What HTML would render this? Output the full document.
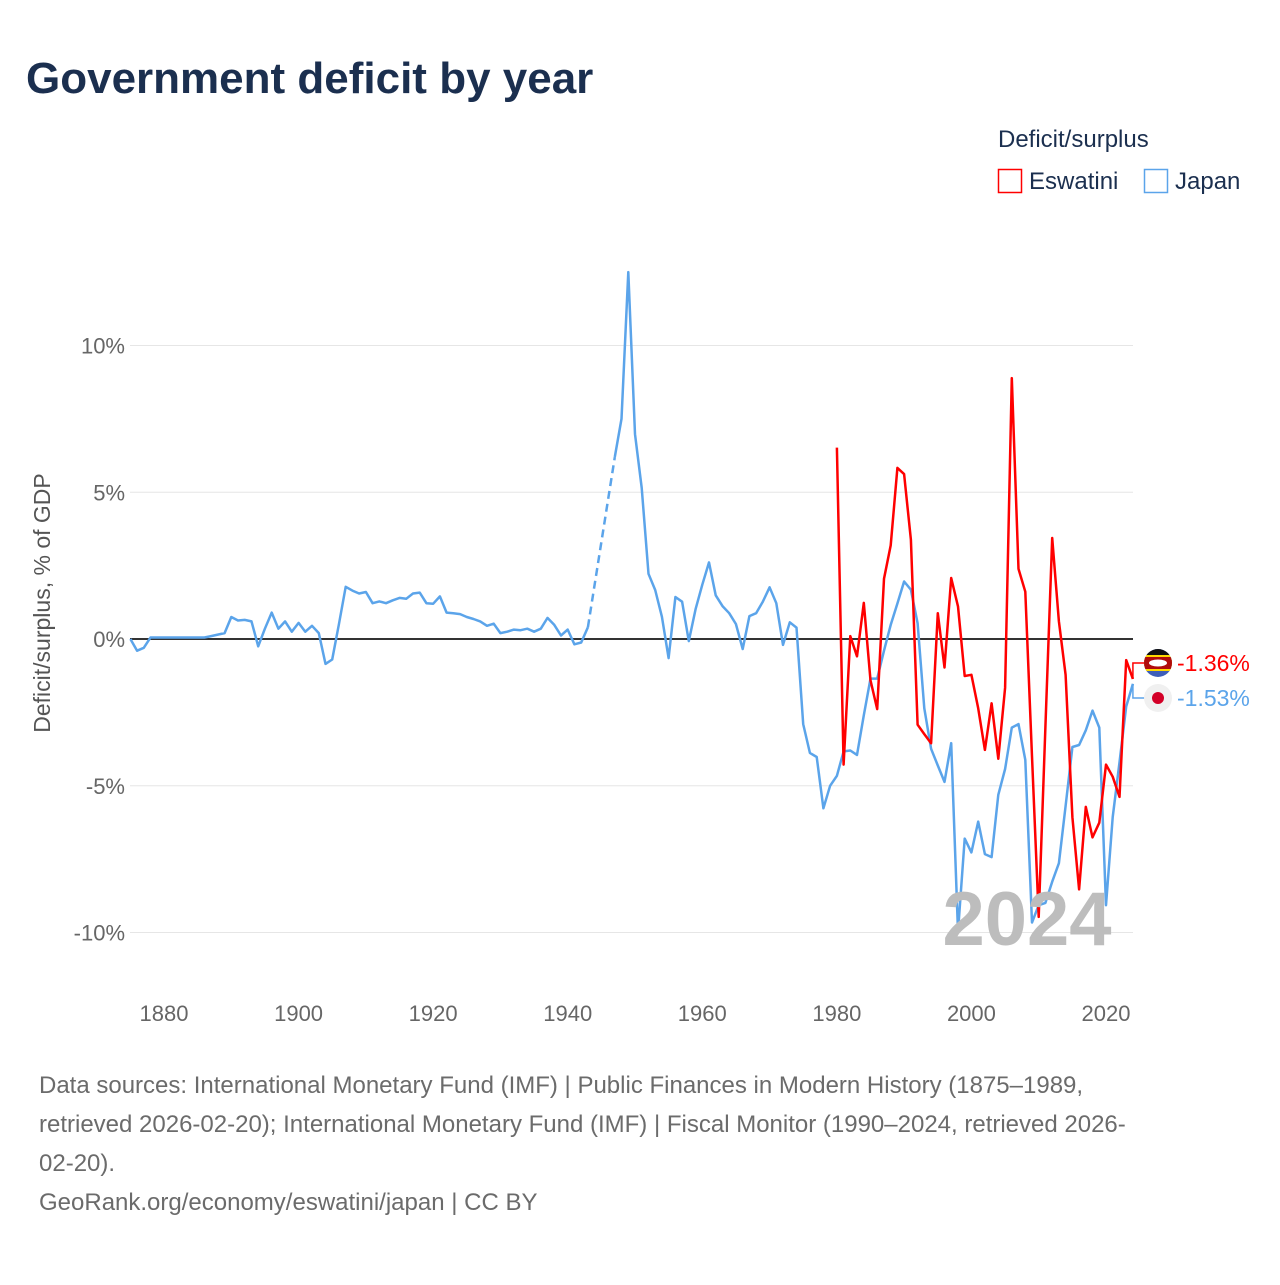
<!DOCTYPE html>
<html><head><meta charset="utf-8"><style>
body{margin:0;background:#fff;font-family:"Liberation Sans",sans-serif}
svg text{font-family:"Liberation Sans",sans-serif}
</style></head><body>
<svg id="chart" width="1280" height="1280" viewBox="0 0 1280 1280">
<text x="26" y="93" font-size="44" font-weight="bold" fill="#1b2f4f">Government deficit by year</text>
<g>
<text x="998" y="147" font-size="24" fill="#1b2f4f">Deficit/surplus</text>
<rect x="998.5" y="169.5" width="23" height="23" fill="none" stroke="#ff0000" stroke-width="1.5"/>
<text x="1029" y="189" font-size="24" fill="#1b2f4f">Eswatini</text>
<rect x="1144.5" y="169.5" width="23" height="23" fill="none" stroke="#5ba4ea" stroke-width="1.5"/>
<text x="1175" y="189" font-size="24" fill="#1b2f4f">Japan</text>
</g>
<text transform="translate(50,603) rotate(-90)" text-anchor="middle" font-size="23" fill="#555">Deficit/surplus, % of GDP</text>
<g id="grid"></g><g id="xt"></g><g id="series"></g>
<text x="1027" y="945" text-anchor="middle" font-size="76" font-weight="bold" fill="#bdbdbd">2024</text>
<g id="ends"></g>
<g font-size="24" fill="#6b6b6b">
<text x="39" y="1093">Data sources: International Monetary Fund (IMF) | Public Finances in Modern History (1875–1989,</text>
<text x="39" y="1132">retrieved 2026-02-20); International Monetary Fund (IMF) | Fiscal Monitor (1990–2024, retrieved 2026-</text>
<text x="39" y="1171">02-20).</text>
<text x="39" y="1210">GeoRank.org/economy/eswatini/japan | CC BY</text>
</g>
</svg>
<script>
const yTicks=[10,5,0,-5,-10];
const xTicks=[1880,1900,1920,1940,1960,1980,2000,2020];
const japanStart=1875;
const japanVals=[0,-0.4,-0.3,0.05,0.05,0.05,0.05,0.05,0.05,0.05,0.05,0.05,0.1,0.15,0.2,0.75,0.63,0.65,0.6,-0.25,0.35,0.9,0.35,0.6,0.25,0.55,0.25,0.45,0.2,-0.85,-0.7,0.5,1.78,1.65,1.55,1.6,1.22,1.28,1.22,1.32,1.4,1.37,1.55,1.58,1.22,1.2,1.45,0.9,0.88,0.85,0.75,0.68,0.6,0.45,0.52,0.2,0.25,0.32,0.3,0.35,0.25,0.35,0.72,0.48,0.12,0.32,-0.18,-0.12,0.4,null,null,null,6.2,7.5,12.5,6.98,5.15,2.22,1.67,0.76,-0.65,1.43,1.27,-0.07,1.02,1.85,2.61,1.49,1.12,0.88,0.51,-0.34,0.78,0.88,1.27,1.76,1.22,-0.2,0.57,0.39,-2.9,-3.88,-4.02,-5.77,-5.0,-4.66,-3.83,-3.8,-3.95,-2.6,-1.35,-1.35,-0.4,0.48,1.21,1.96,1.68,0.54,-2.36,-3.74,-4.31,-4.87,-3.55,-9.97,-6.8,-7.27,-6.22,-7.33,-7.43,-5.31,-4.43,-3.02,-2.9,-4.12,-9.66,-9.07,-8.99,-8.27,-7.64,-5.69,-3.68,-3.61,-3.11,-2.44,-3.02,-9.07,-6.07,-4.2,-2.3,-1.53];
const eswStart=1980;
const eswVals=[6.52,-4.28,0.1,-0.59,1.23,-1.41,-2.39,2.05,3.19,5.83,5.62,3.38,-2.92,-3.24,-3.55,0.88,-0.97,2.08,1.11,-1.26,-1.22,-2.36,-3.78,-2.19,-4.08,-1.66,8.89,2.39,1.61,-4.0,-9.47,-3.0,3.44,0.6,-1.22,-6.07,-8.53,-5.72,-6.76,-6.26,-4.28,-4.69,-5.38,-0.72,-1.36];
const NS="http://www.w3.org/2000/svg";
const X=y=>164+(y-1880)*(942/140);
const Y=v=>639-v*29.35;
function mk(t,a,p){const e=document.createElementNS(NS,t);for(const k in a)e.setAttribute(k,a[k]);p.appendChild(e);return e;}
const grid=document.getElementById('grid');
yTicks.forEach(v=>{
 const l=mk('line',{x1:130,x2:1133,y1:Y(v),y2:Y(v),stroke:v===0?'#333':'#e6e6e6','stroke-width':v===0?2:1},grid);
 
 
 const t=mk('text',{x:125,y:Y(v)+8,'text-anchor':'end','font-size':22,fill:'#666'},grid);
 t.textContent=v+'%';
 
 
});
const xt=document.getElementById('xt');
xTicks.forEach(v=>{
 const t=mk('text',{x:X(v),y:1021,'text-anchor':'middle','font-size':22,fill:'#666'},xt);
 t.textContent=v;
 
 
});
const ser=document.getElementById('series');
function drawSeries(start,vals,color,name){
 let d='',pen=false,last=null,gaps=[];
 vals.forEach((v,i)=>{
  const yr=start+i;
  if(v===null){pen=false;return;}
  if(!pen&&last!==null)gaps.push([last,[yr,v]]);
  d+=(pen?'L':'M')+X(yr).toFixed(1)+' '+Y(v).toFixed(1)+' ';
  pen=true;last=[yr,v];
 });
 const p=mk('path',{d:d,fill:'none',stroke:color,'stroke-width':2.5,'stroke-linejoin':'round'},ser);
 
 
 gaps.forEach(g=>{
  const q=mk('path',{d:'M'+X(g[0][0])+' '+Y(g[0][1])+'L'+X(g[1][0])+' '+Y(g[1][1]),stroke:color,'stroke-width':2.5,'stroke-dasharray':'8 5',fill:'none'},ser);
  
  
 });
}
drawSeries(japanStart,japanVals,'#5ba4ea','japan');
drawSeries(eswStart,eswVals,'#ff0000','eswatini');
const ends=document.getElementById('ends');
function endLabel(vals,start,color,ly,name,flag){
 const v=vals[vals.length-1],yr=start+vals.length-1;
 const c=mk('path',{d:'M'+X(yr)+' '+Y(v)+'V'+ly+'H1146',stroke:color,'stroke-width':1.5,fill:'none'},ends);
 
 
 const g=mk('g',{},ends);
 
 
 flag(g,1158,ly);
 const t=mk('text',{x:1177,y:ly+8,'font-size':23,fill:color},ends);
 t.textContent=v.toFixed(2)+'%';
 
 
}
endLabel(eswVals,eswStart,'#ff0000',663,'eswatini',(g,x,y)=>{
 const cp=mk('clipPath',{id:'cf'},g);mk('circle',{cx:x,cy:y,r:14},cp);
 const h=mk('g',{'clip-path':'url(#cf)'},g);
 mk('rect',{x:x-14,y:y-14,width:28,height:28,fill:'#3e5eb9'},h);
 mk('rect',{x:x-14,y:y-8,width:28,height:16,fill:'#ffd900'},h);
 mk('rect',{x:x-14,y:y-6,width:28,height:12,fill:'#b10c0c'},h);
 mk('rect',{x:x-14,y:y-14,width:28,height:6,fill:'#111'},h);
 mk('ellipse',{cx:x,cy:y,rx:9,ry:3.5,fill:'#fff'},h);
});
endLabel(japanVals,japanStart,'#5ba4ea',698,'japan',(g,x,y)=>{
 mk('circle',{cx:x,cy:y,r:14,fill:'#f0f0f0'},g);
 mk('circle',{cx:x,cy:y,r:6,fill:'#d30027'},g);
});
</script>
</body></html>
